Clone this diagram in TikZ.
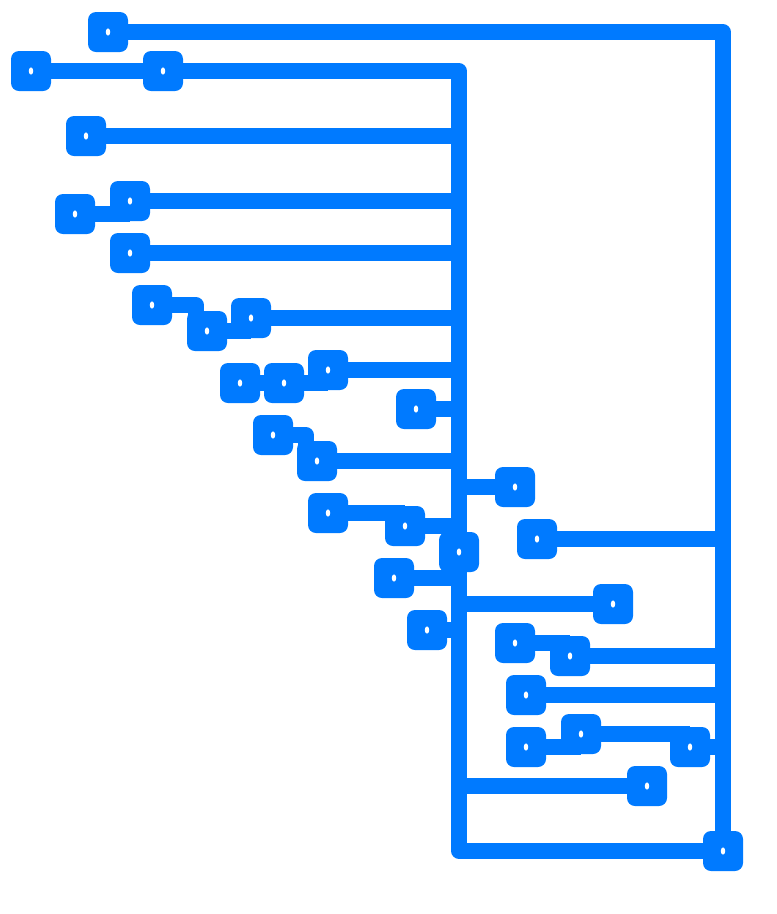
\documentclass[tikz,border=0pt]{standalone}
\usetikzlibrary{positioning}
\definecolor{copper}{RGB}{0,122,255}
\begin{document}
\begin{tikzpicture}[x=1pt,y=-1pt,
      pad/.style={rectangle,rounded corners=8pt,fill=copper,minimum size=40pt,inner sep=0pt,
        path picture={\fill[white] (path picture bounding box.center) ellipse (2.2pt and 3.6pt);}},
      track/.style={draw=copper,line width=15.7pt,line join=round}
      ]
      \useasboundingbox (0,0) rectangle (777,914);
      % pads, top left down to the middle
      \node (p1) [pad] at (108,32) {};
      \node (p2) [pad] at (31,71) {};
      \node (p3) [pad] at (163,71) {};
      \node (p4) [pad] at (86,136) {};
      \node (p5) [pad] at (130,201) {};
      \node (p6) [pad] at (75,214) {};
      \node (p7) [pad] at (130,253) {};
      \node (p8) [pad] at (152,305) {};
      \node (p9) [pad] at (207,331) {};
      \node (p10) [pad] at (251,318) {};
      \node (p11) [pad] at (240,383) {};
      \node (p12) [pad] at (284,383) {};
      \node (p13) [pad] at (328,370) {};
      \node (p14) [pad] at (416,409) {};
      \node (p15) [pad] at (273,435) {};
      \node (p16) [pad] at (317,461) {};
      \node (p17) [pad] at (515,487) {};
      \node (p18) [pad] at (328,513) {};
      \node (p19) [pad] at (405,526) {};
      \node (p20) [pad] at (537,539) {};
      \node (p21) [pad] at (459,552) {};
      \node (p22) [pad] at (394,578) {};
      \node (p23) [pad] at (613,604) {};
      \node (p24) [pad] at (427,630) {};
      \node (p25) [pad] at (515,643) {};
      \node (p26) [pad] at (570,656) {};
      \node (p27) [pad] at (526,695) {};
      \node (p28) [pad] at (581,734) {};
      \node (p29) [pad] at (526,747) {};
      \node (p30) [pad] at (690,747) {};
      \node (p31) [pad] at (647,786) {};
      \node (p32) [pad] at (723,851) {};
      % the two rails
      \coordinate (top1) at (723,32);
      \coordinate (top2) at (459,71);
      \coordinate (bot2) at (459,851);
      \draw[track] (p1) -- (top1) -- (p32);
      \draw[track] (p3) -- (top2) -- (p21);
      \draw[track] (p21) -- (bot2) -- (p32);
      % jogs into the pads
      \coordinate (jog8a) at (196,305);
      \coordinate (jog8b) at (196,331);
      \coordinate (jog15a) at (306,435);
      \coordinate (jog15b) at (306,461);
      \draw[track] (p8) -- (jog8a) -- (jog8b);
      \draw[track] (p15) -- (jog15a) -- (jog15b);
      % tracks to the left rail
      \draw[track] (p2) -- (p3);
      \draw[track] (p6) -- (p5 |- p6);
      \draw[track] (p5) -- (top2 |- p5);
      \draw[track] (p4) -- (top2 |- p4);
      \draw[track] (p7) -- (top2 |- p7);
      \draw[track] (p9) -- (p10 |- p9);
      \draw[track] (p10) -- (top2 |- p10);
      \draw[track] (p11) -- (p12);
      \draw[track] (p12) -- (p13 |- p12);
      \draw[track] (p13) -- (top2 |- p13);
      \draw[track] (p14) -- (top2 |- p14);
      \draw[track] (p16) -- (top2 |- p16);
      \draw[track] (top2 |- p17) -- (p17);
      \draw[track] (p18) -- (p19 |- p18);
      \draw[track] (p19) -- (top2 |- p19);
      \draw[track] (p22) -- (top2 |- p22);
      \draw[track] (top2 |- p23) -- (p23);
      \draw[track] (p24) -- (top2 |- p24);
      \draw[track] (top2 |- p31) -- (p31);
      % tracks to the right rail
      \draw[track] (p20) -- (top1 |- p20);
      \draw[track] (p25) -- (p26 |- p25);
      \draw[track] (p26) -- (top1 |- p26);
      \draw[track] (p27) -- (top1 |- p27);
      \draw[track] (p29) -- (p28 |- p29);
      \draw[track] (p28) -- (p30 |- p28);
      \draw[track] (p30) -- (top1 |- p30);
    \end{tikzpicture}
\end{document}
